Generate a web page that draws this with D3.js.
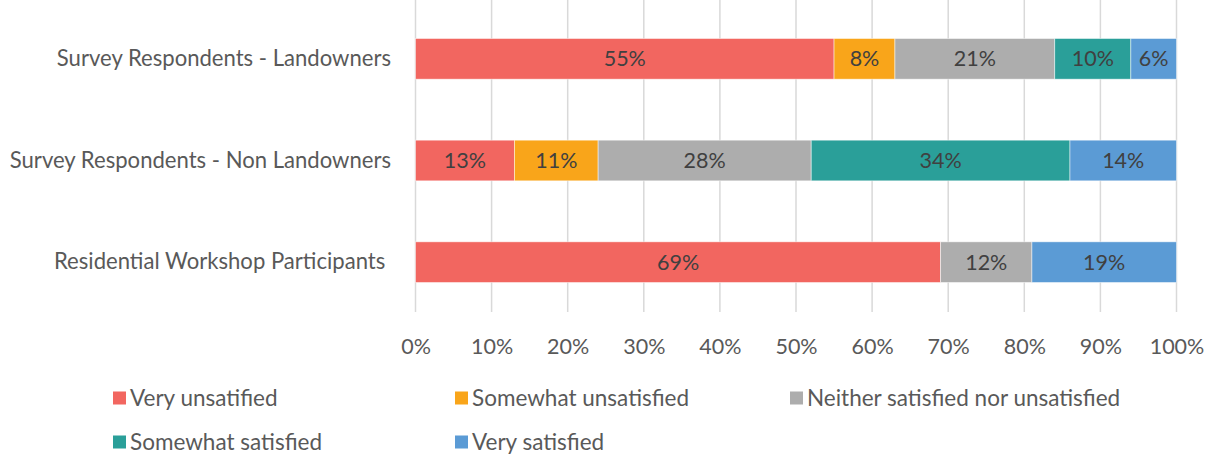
<!DOCTYPE html>
<html><head><meta charset="utf-8">
<script src="https://cdn.jsdelivr.net/npm/d3@7"></script>
<style>body{margin:0;background:#fff;} text{font-family:Lato,"Open Sans",sans-serif;}</style>
</head><body><svg id="c" width="1211" height="455"></svg>
<script>
const categories = ["Survey Respondents - Landowners","Survey Respondents - Non Landowners","Residential Workshop Participants "];
const seriesNames = ["Very unsatified","Somewhat unsatisfied","Neither satisfied nor unsatisfied","Somewhat satisfied","Very satisfied"];
const veryUnsatisfied = [55,13,69];
const somewhatUnsatisfied = [8,11,0];
const neither = [21,28,12];
const somewhatSatisfied = [10,34,0];
const verySatisfied = [6,14,19];
const tickValues = [0,10,20,30,40,50,60,70,80,90,100];
const colors = ["#F26660","#F9A51A","#ADADAD","#2A9F99","#5B9BD5"];

const seriesVals = [veryUnsatisfied,somewhatUnsatisfied,neither,somewhatSatisfied,verySatisfied];
const rows = categories.map((c,i)=>{const o={cat:c}; seriesNames.forEach((s,j)=>o[s]=seriesVals[j][i]); return o;});
const stack = d3.stack().keys(seriesNames)(rows);

const svg = d3.select("#c");
const x = d3.scaleLinear().domain([0,100]).range([415.5,1176.5]);
const y = d3.scaleBand().domain(categories).range([8,313]).paddingInner(0.6).paddingOuter(0.3);

svg.append("g").selectAll("line").data(tickValues).join("line")
  .attr("x1",d=>x(d)).attr("x2",d=>x(d)).attr("y1",0).attr("y2",312)
  .attr("stroke","#d9d9d9").attr("stroke-width",1.5);

const xAxis = svg.append("g").attr("transform","translate(0,313)")
  .call(d3.axisBottom(x).tickValues(tickValues).tickFormat(d=>d+"%").tickSize(0).tickPadding(26));
xAxis.select(".domain").remove();
xAxis.selectAll("text").attr("font-size",21.5).attr("fill","#595959").style("font-family","Lato");

const yAxis = svg.append("g").attr("transform","translate(391,0)")
  .call(d3.axisLeft(y).tickSize(0).tickPadding(0));
yAxis.select(".domain").remove();
yAxis.selectAll("text").attr("font-size",22.1).attr("fill","#595959").style("font-family","Lato").style("white-space","pre");

const g = svg.append("g").selectAll("g").data(stack).join("g").attr("fill",(d,i)=>colors[i]);
g.selectAll("rect").data(d=>d.map(p=>({p,cat:p.data.cat,v:p[1]-p[0]}))).join("rect")
  .attr("x",d=>x(d.p[0])).attr("width",d=>x(d.p[1])-x(d.p[0]))
  .attr("y",d=>y(d.cat)).attr("height",y.bandwidth())
  .attr("stroke","#fff").attr("stroke-width",0.8).attr("stroke-opacity",0.6);
g.selectAll("text").data(d=>d.map(p=>({p,cat:p.data.cat,v:p[1]-p[0]})).filter(d=>d.v>0)).join("text")
  .attr("x",d=>(x(d.p[0])+x(d.p[1]))/2).attr("y",d=>y(d.cat)+y.bandwidth()/2)
  .attr("dy","0.35em").attr("text-anchor","middle").attr("font-size",21.5).attr("fill","#404040")
  .text(d=>d.v+"%");

const legPos = [[113,398],[455,398],[790,398],[113,442],[455,442]];
const leg = svg.append("g").selectAll("g").data(seriesNames).join("g")
  .attr("transform",(d,i)=>`translate(${legPos[i][0]},${legPos[i][1]})`);
leg.append("rect").attr("x",0).attr("y",-6.5).attr("width",13).attr("height",13).attr("fill",(d,i)=>colors[i]);
leg.append("text").attr("x",17).attr("dy","0.35em").attr("font-size",22.5).attr("fill","#595959").text(d=>d);
</script></body></html>
